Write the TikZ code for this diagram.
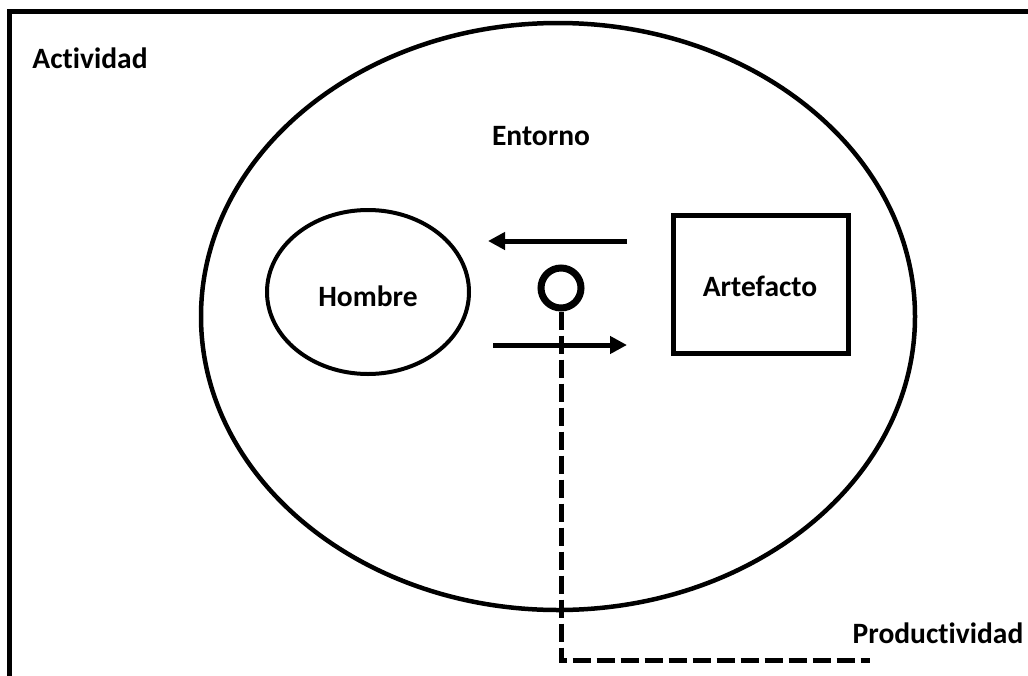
\documentclass[tikz,border=0pt]{standalone}
\usepackage{fontspec}
\setmainfont[RawFeature=-liga]{Carlito}
\usetikzlibrary{arrows.meta,shapes.geometric}
\tikzset{
  lbl/.style={font=\bfseries\fontsize{29.5}{34}\selectfont, inner sep=0pt},
  thick5/.style={line width=5pt},
  arr/.style={line width=5pt, -{Triangle[length=17pt,width=17pt]}},
  dsh/.style={line width=5pt, dash pattern=on 18pt off 6pt}
}
\begin{document}
\begin{tikzpicture}[x=1pt,y=-1pt]
\useasboundingbox (0,0) rectangle (1028,675);
\fill[white] (0,0) rectangle (1028,675);
\begin{scope}
\clip (0,0) rectangle (1028,675);
\draw[thick5] (9,11) rectangle (1045,700);
\end{scope}
\node[draw, line width=4.5pt, ellipse, minimum width=714pt, minimum height=587pt, inner sep=0pt] (entorno) at (558,316.5) {};
\node[draw, line width=4pt, ellipse, minimum width=202pt, minimum height=164pt, inner sep=0pt] (hombre) at (368,292) {};
\node[lbl] at (368,296) {Hombre};
\node[draw, thick5, minimum width=175pt, minimum height=138pt, inner sep=0pt] (artefacto) at (760.5,284) {};
\node[lbl] at (760,286) {Artefacto};
\node[draw, line width=7pt, circle, minimum size=40pt, inner sep=0pt] (circ) at (561,288) {};
\node[lbl] (actividad) at (90,58) {Actividad};
\node[lbl] (entlbl) at (541,136) {Entorno};
\node[lbl] (prod) at (938,633) {Productividad};
\coordinate (a1s) at (627,241);
\coordinate (a1e) at (488,241);
\coordinate (a2s) at (493,345);
\coordinate (a2e) at (627,345);
\draw[arr] (a1s) -- (a1e);
\draw[arr] (a2s) -- (a2e);
\coordinate (corner) at (561,660);
\coordinate (dend) at (870,660);
\draw[dsh] (circ.south) -- (corner) -- (dend);
\end{tikzpicture}
\end{document}
